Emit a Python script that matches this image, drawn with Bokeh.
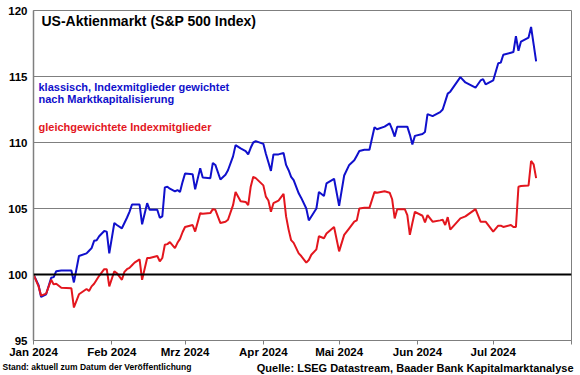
import pandas as pd
from bokeh.plotting import figure
from bokeh.layouts import column
from bokeh.models import (Range1d, FixedTicker, CustomJSTickFormatter, Span, Label)
from bokeh.embed import file_html
from bokeh.resources import INLINE

dates = [
    "2024-01-01", "2024-01-03", "2024-01-04", "2024-01-06", "2024-01-08", "2024-01-09", "2024-01-10", "2024-01-12", "2024-01-16", "2024-01-17",
    "2024-01-19", "2024-01-22", "2024-01-23", "2024-01-24", "2024-01-25", "2024-01-26", "2024-01-27", "2024-01-29", "2024-01-30", "2024-01-31",
    "2024-02-02", "2024-02-03", "2024-02-05", "2024-02-06", "2024-02-07", "2024-02-08", "2024-02-09", "2024-02-10", "2024-02-12", "2024-02-13",
    "2024-02-15", "2024-02-16", "2024-02-19", "2024-02-20", "2024-02-21", "2024-02-22", "2024-02-23", "2024-02-24", "2024-02-26", "2024-02-27",
    "2024-02-28", "2024-02-29", "2024-03-01", "2024-03-04", "2024-03-05", "2024-03-07", "2024-03-08", "2024-03-11", "2024-03-12", "2024-03-13",
    "2024-03-15", "2024-03-17", "2024-03-18", "2024-03-20", "2024-03-21", "2024-03-23", "2024-03-25", "2024-03-26", "2024-03-27", "2024-03-28",
    "2024-03-29", "2024-04-01", "2024-04-02", "2024-04-03", "2024-04-04", "2024-04-05", "2024-04-07", "2024-04-09", "2024-04-10", "2024-04-11",
    "2024-04-12", "2024-04-13", "2024-04-15", "2024-04-16", "2024-04-18", "2024-04-19", "2024-04-20", "2024-04-22", "2024-04-23", "2024-04-25",
    "2024-04-26", "2024-04-29", "2024-05-01", "2024-05-03", "2024-05-05", "2024-05-07", "2024-05-08", "2024-05-09", "2024-05-11", "2024-05-13",
    "2024-05-15", "2024-05-16", "2024-05-19", "2024-05-21", "2024-05-22", "2024-05-23", "2024-05-24", "2024-05-27", "2024-05-28", "2024-05-29",
    "2024-05-30", "2024-05-31", "2024-06-03", "2024-06-04", "2024-06-05", "2024-06-07", "2024-06-10", "2024-06-11", "2024-06-12", "2024-06-13",
    "2024-06-14", "2024-06-18", "2024-06-20", "2024-06-24", "2024-06-26", "2024-06-27", "2024-06-28", "2024-07-01", "2024-07-03", "2024-07-04",
    "2024-07-05", "2024-07-08", "2024-07-09", "2024-07-10", "2024-07-11", "2024-07-12", "2024-07-15", "2024-07-16", "2024-07-17", "2024-07-18",
]

cap_weighted = [
    100, 99.2, 98.3, 98.5, 99.75, 99.8, 100.25, 100.3, 100.3, 99.4,
    101.4, 101.6, 101.8, 102.0, 102.55, 102.6, 102.9, 103.3, 103.25, 101.6,
    103.9, 103.75, 103.5, 103.9, 104.3, 104.75, 105.3, 105.3, 105.3, 103.8,
    105.4, 104.9, 104.9, 104.3, 104.4, 106.6, 106.65, 106.5, 106.3, 106.4,
    106.25, 107.0, 107.65, 107.6, 106.45, 108.05, 107.35, 107.3, 108.45, 108.3,
    107.2, 107.55, 107.9, 108.95, 109.8, 109.55, 109.35, 109.1, 109.6, 110.0,
    110.1, 109.9, 109.15, 108.5, 107.85, 109.1, 109.1, 109.2, 108.3, 107.9,
    107.4, 107.15, 106.15, 105.8, 105.0, 104.1, 104.4, 105.0, 106.25, 105.95,
    106.9, 107.25, 105.2, 107.5, 108.3, 108.65, 109.0, 109.35, 109.45, 109.45,
    111.15, 111.0, 111.2, 111.45, 111.0, 110.45, 111.2, 111.2, 111.2, 110.6,
    109.85, 110.5, 110.65, 110.8, 112.15, 112.0, 112.3, 112.5, 113.1, 113.7,
    113.85, 114.95, 114.55, 114.15, 114.7, 114.8, 114.4, 114.7, 116.0, 116.05,
    116.65, 116.8, 116.85, 118.05, 116.95, 117.65, 117.95, 118.75, 117.45, 116.15,
]

equal_weighted = [
    100, 99.1, 98.4, 98.55, 99.6, 99.25, 99.3, 99.0, 98.95, 97.5,
    98.5, 98.9, 98.75, 99.1, 99.3, 99.6, 99.9, 100.4, 100.4, 99.1,
    100.25, 100.1, 99.6, 100.2, 100.4, 100.5, 100.7, 100.9, 101.15, 99.6,
    101.25, 101.25, 101.4, 101.0, 101.25, 102.25, 102.3, 102.45, 102.0, 102.4,
    102.7, 103.2, 103.6, 103.75, 103.25, 104.65, 104.6, 104.65, 104.95, 104.9,
    103.9, 104.0, 104.15, 105.25, 106.25, 105.55, 105.5, 105.25, 106.65, 107.4,
    107.3, 106.75, 105.9, 105.6, 104.75, 105.4, 105.6, 106.1, 104.4, 103.4,
    102.6, 102.4, 101.6, 101.4, 100.9, 101.1, 101.5, 101.9, 102.9, 102.75,
    103.1, 103.6, 101.75, 103.0, 103.5, 104.0, 104.1, 105.0, 105.05, 105.05,
    106.25, 106.2, 106.3, 106.2, 105.7, 104.25, 104.95, 104.95, 104.5, 103.0,
    103.9, 104.75, 104.45, 103.95, 104.5, 104.0, 104.1, 104.15, 103.75, 104.35,
    103.4, 104.25, 104.4, 104.95, 104.0, 104.0, 104.0, 103.25, 103.7, 103.7,
    103.6, 103.75, 103.6, 103.6, 106.65, 106.7, 106.75, 108.6, 108.35, 107.3,
]

month_ticks = ["2024-01-01", "2024-02-01", "2024-03-01", "2024-04-01",
               "2024-05-01", "2024-06-01", "2024-07-01", "2024-08-01"]
month_labels = ["Jan 2024", "Feb 2024", "Mrz 2024", "Apr 2024",
                "Mai 2024", "Jun 2024", "Jul 2024", ""]
y_ticks = [95, 100, 105, 110, 115, 120]

title_text = "US-Aktienmarkt (S&P 500 Index)"
blue_label = ["klassisch, Indexmitglieder gewichtet", "nach Marktkapitalisierung"]
red_label = "gleichgewichtete Indexmitglieder"
footer_left = "Stand: aktuell zum Datum der Veröffentlichung"
footer_right = "Quelle: LSEG Datastream, Baader Bank Kapitalmarktanalyse"

assert len(dates) == len(cap_weighted) == len(equal_weighted)

FONT = "Liberation Sans"
BLUE = "#1010CC"
RED = "#E3161E"
GRID = "#7F7F7F"

x = pd.to_datetime(dates)
tick_ms = [pd.Timestamp(d).value / 1e6 for d in month_ticks]

p = figure(width=580, height=360, x_axis_type="datetime",
           output_backend="svg", toolbar_location=None,
           x_range=Range1d(tick_ms[0], tick_ms[-1]),
           y_range=Range1d(95, 120),
           min_border_left=33, min_border_right=9,
           min_border_top=10, min_border_bottom=18)
p.frame_align = False
p.background_fill_color = "white"
p.border_fill_color = "white"
p.outline_line_color = GRID
p.outline_line_width = 1

# axes
p.xaxis.ticker = FixedTicker(ticks=tick_ms)
labels_js = "{" + ",".join(f"{int(t)}: '{l}'" for t, l in zip(tick_ms, month_labels)) + "}"
p.xaxis.formatter = CustomJSTickFormatter(code=f"const m = {labels_js}; return (m[Math.round(tick)] !== undefined) ? m[Math.round(tick)] : '';")
p.xaxis.major_tick_out = 4
p.xaxis.major_tick_in = 0
p.xaxis.minor_tick_line_color = None
p.xaxis.axis_line_color = GRID
p.xaxis.major_tick_line_color = GRID
p.xaxis.major_label_standoff = 1
p.xaxis.major_label_text_font = FONT
p.xaxis.major_label_text_font_style = "bold"
p.xaxis.major_label_text_font_size = "11.5px"
p.xaxis.major_label_text_color = "black"

p.yaxis.ticker = FixedTicker(ticks=y_ticks)
p.yaxis.major_tick_out = 0
p.yaxis.major_tick_in = 0
p.yaxis.minor_tick_line_color = None
p.yaxis.axis_line_color = GRID
p.yaxis.axis_line_width = 1.5
p.yaxis.major_label_standoff = 6
p.yaxis.major_label_text_font = FONT
p.yaxis.major_label_text_font_style = "bold"
p.yaxis.major_label_text_font_size = "11.5px"
p.yaxis.major_label_text_color = "black"

p.xgrid.grid_line_color = None
p.ygrid.grid_line_color = GRID
p.ygrid.grid_line_width = 1

p.add_layout(Span(location=100, dimension="width", line_color="black", line_width=2))

p.line(x, cap_weighted, line_color=BLUE, line_width=2)
p.line(x, equal_weighted, line_color=RED, line_width=2)

# texts inside the frame
p.add_layout(Label(x=8, y=320, x_units="screen", y_units="screen", text=title_text,
                   text_font=FONT, text_font_style="bold", text_font_size="14px",
                   text_baseline="middle", text_color="black"))
p.add_layout(Label(x=5, y=254, x_units="screen", y_units="screen", text=blue_label[0],
                   text_font=FONT, text_font_style="bold", text_font_size="11px",
                   text_baseline="middle", text_color=BLUE))
p.add_layout(Label(x=5, y=242, x_units="screen", y_units="screen", text=blue_label[1],
                   text_font=FONT, text_font_style="bold", text_font_size="11px",
                   text_baseline="middle", text_color=BLUE))
p.add_layout(Label(x=5, y=214, x_units="screen", y_units="screen", text=red_label,
                   text_font=FONT, text_font_style="bold", text_font_size="11px",
                   text_baseline="middle", text_color=RED))

# footer strip
f = figure(width=580, height=15, output_backend="svg", toolbar_location=None,
           x_range=Range1d(0, 580), y_range=Range1d(0, 15),
           x_axis_location=None, y_axis_location=None, min_border=0)
f.frame_align = False
f.outline_line_color = None
f.grid.grid_line_color = None
f.border_fill_color = "white"
f.add_layout(Label(x=2, y=9, text=footer_left,
                   text_font=FONT, text_font_style="bold", text_font_size="8.5px",
                   text_baseline="middle", text_color="black"))
f.add_layout(Label(x=573, y=8, text=footer_right,
                   text_font=FONT, text_font_style="bold", text_font_size="11px",
                   text_baseline="middle", text_align="right", text_color="black"))

open("out.html", "w").write(file_html(column(p, f), INLINE))
